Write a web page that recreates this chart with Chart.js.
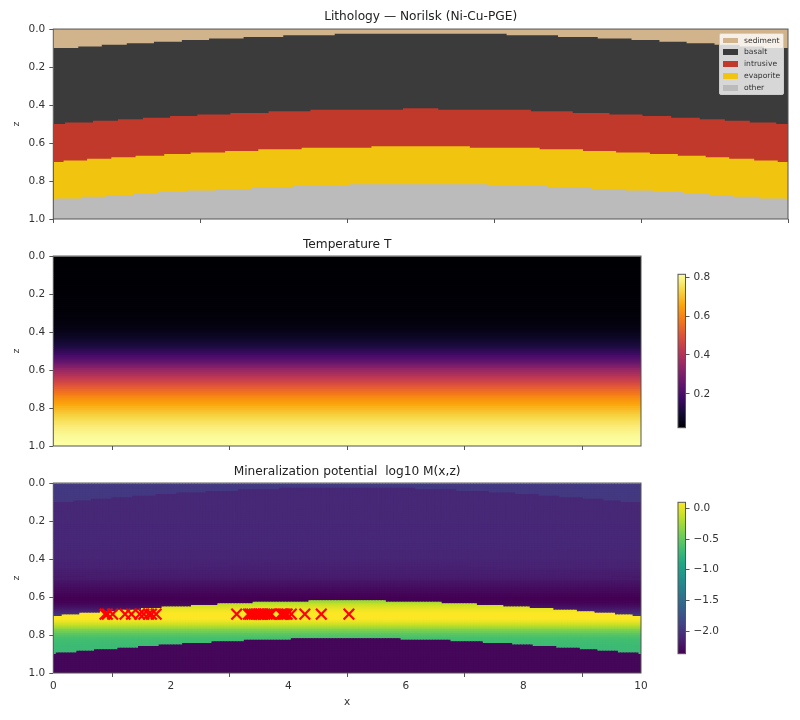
<!DOCTYPE html>
<html>
<head>
<meta charset="utf-8">
<title>Norilsk sections</title>
<script src="https://cdn.jsdelivr.net/npm/chart.js"></script>
<style>
    html, body { margin: 0; padding: 0; background: #fff; }
    #page { position: relative; width: 800px; height: 720px; overflow: hidden; filter: blur(0.5px); }
    canvas { position: absolute; }
    #legend {
        position: absolute; left: 719px; top: 33px; width: 63px; height: 60px;
        background: rgba(255, 255, 255, 0.8); border: 1px solid #ccc; border-radius: 2px;
        font: 7.6px "DejaVu Sans", sans-serif; color: #333;
    }
    #legend div { position: absolute; left: 24px; line-height: 10px; }
    #legend span { position: absolute; left: -21px; top: 2px; width: 15px; height: 5.5px; }
</style>
</head>
<body>
<div id="page">
    <canvas id="lithologyChart" width="800" height="235" style="left:0;top:0"></canvas>
    <canvas id="temperatureChart" width="660" height="232" style="left:0;top:232px"></canvas>
    <canvas id="temperatureBar" width="80" height="174" style="left:670px;top:264px"></canvas>
    <canvas id="mineralChart" width="660" height="261" style="left:0;top:459px"></canvas>
    <canvas id="mineralBar" width="80" height="172" style="left:670px;top:492px"></canvas>
    <div id="legend"></div>
</div>
<script>
// Lithology layers, top to bottom
const layerNames = ['sediment', 'basalt', 'intrusive', 'evaporite', 'other'];
const layerColors = ['#d2b48c', '#3b3b3b', '#c0392b', '#f1c40f', '#bbbbbb'];

// Base of each layer: a step starts at x and holds z until the next x
const sedimentBaseX = [0, 0.34, 0.66, 1, 1.37, 1.75, 2.12, 2.59, 3.13, 3.83, 6.17, 6.87, 7.41, 7.87, 8.25, 8.62, 9, 9.34, 9.67, 10];
const sedimentBaseZ = [0.1, 0.0917, 0.0833, 0.075, 0.0667, 0.0583, 0.05, 0.0417, 0.0333, 0.025, 0.0333, 0.0417, 0.05, 0.0583, 0.0667, 0.075, 0.0833, 0.0917, 0.1, 0.1];
const basaltBaseX = [0, 0.16, 0.54, 0.88, 1.22, 1.59, 1.96, 2.41, 2.93, 3.5, 4.76, 5.24, 6.5, 7.07, 7.57, 8.02, 8.41, 8.8, 9.14, 9.48, 9.84, 10];
const basaltBaseZ = [0.5, 0.4917, 0.4833, 0.475, 0.4667, 0.4583, 0.45, 0.4417, 0.4333, 0.425, 0.4167, 0.425, 0.4333, 0.4417, 0.45, 0.4583, 0.4667, 0.475, 0.4833, 0.4917, 0.5, 0.5];
const intrusiveBaseX = [0, 0.14, 0.46, 0.79, 1.12, 1.51, 1.87, 2.34, 2.79, 3.38, 4.33, 5.67, 6.62, 7.21, 7.66, 8.12, 8.5, 8.88, 9.2, 9.54, 9.86, 10];
const intrusiveBaseZ = [0.7, 0.6917, 0.6833, 0.675, 0.6667, 0.6583, 0.65, 0.6417, 0.6333, 0.625, 0.6167, 0.625, 0.6333, 0.6417, 0.65, 0.6583, 0.6667, 0.675, 0.6833, 0.6917, 0.7, 0.7];
const evaporiteBaseX = [0, 0.04, 0.385, 0.72, 1.09, 1.43, 1.82, 2.21, 2.7, 3.26, 4.04, 5.92, 6.73, 7.32, 7.79, 8.16, 8.57, 8.93, 9.25, 9.62, 9.96, 10];
const evaporiteBaseZ = [0.9, 0.8917, 0.8833, 0.875, 0.8667, 0.8583, 0.85, 0.8417, 0.8333, 0.825, 0.8167, 0.825, 0.8333, 0.8417, 0.85, 0.8583, 0.8667, 0.875, 0.8833, 0.8917, 0.9, 0.9];

// Temperature by depth, one value per 0.01 of z
const temperatureRows = [
    0.026, 0.026, 0.026, 0.026, 0.026, 0.026, 0.027, 0.027, 0.027, 0.027,
    0.027, 0.027, 0.028, 0.028, 0.028, 0.028, 0.028, 0.029, 0.029, 0.029,
    0.029, 0.030, 0.030, 0.030, 0.031, 0.031, 0.031, 0.032, 0.032, 0.033,
    0.034, 0.035, 0.036, 0.037, 0.039, 0.042, 0.044, 0.047, 0.051, 0.056,
    0.062, 0.067, 0.073, 0.080, 0.088, 0.097, 0.108, 0.120, 0.132, 0.146,
    0.160, 0.176, 0.193, 0.211, 0.229, 0.247, 0.268, 0.290, 0.312, 0.335,
    0.357, 0.376, 0.396, 0.415, 0.434, 0.452, 0.471, 0.490, 0.509, 0.528,
    0.547, 0.563, 0.579, 0.595, 0.611, 0.626, 0.639, 0.652, 0.664, 0.677,
    0.689, 0.700, 0.711, 0.722, 0.733, 0.744, 0.752, 0.760, 0.768, 0.776,
    0.783, 0.788, 0.793, 0.798, 0.803, 0.807, 0.809, 0.811, 0.813, 0.815
];

// log10 M by depth inside each layer, one value per 0.01 of z from the first row given
const sedimentLogM = [-1.94, -1.95, -1.95, -1.95, -1.96, -1.96, -1.96, -1.96, -1.96, -1.96];
const basaltLogM = [
    -2.09, -2.09, -2.09, -2.09, -2.09, -2.09, -2.09, -2.09, -2.09, -2.09, -2.09, -2.09, -2.09, -2.09, -2.09, -2.09, -2.09, -2.09,
    -2.10, -2.10, -2.10, -2.10, -2.10, -2.10, -2.10, -2.10, -2.10, -2.10, -2.10, -2.10, -2.10, -2.10, -2.10,
    -2.11, -2.11, -2.11, -2.11, -2.11,
    -2.12, -2.12, -2.13, -2.13, -2.14, -2.15, -2.16, -2.17, -2.18, -2.20
];
const intrusiveLogM = [
    -2.13, -2.135, -2.135, -2.148, -2.148, -2.16, -2.16, -2.172, -2.185,
    -2.197, -2.222, -2.234, -2.259, -2.271, -2.296, -2.308, -2.321, -2.345, -2.358,
    -2.37, -2.37, -2.358, -2.333, -2.296, -2.247, -2.197, -2.135, -2.074, -2.0
];
const evaporiteLogM = [
    -0.28, -0.246, -0.147, -0.073, -0.024, 0.026, 0.063, 0.088, 0.1,
    0.1, 0.088, 0.05, -0.011, -0.098, -0.196, -0.295, -0.394, -0.468, -0.542,
    -0.592, -0.629, -0.653, -0.666, -0.678, -0.69, -0.69, -0.69, -0.69, -0.69
];
const otherLogM = [-2.33, -2.33, -2.33, -2.33, -2.33, -2.33, -2.33, -2.33, -2.33, -2.33, -2.33, -2.33, -2.33, -2.33, -2.33, -2.33, -2.33, -2.33, -2.33];
const logMFirstRow = [0, 2, 41, 61, 81];

// Targets marked with red crosses
const targetX = [0.88, 0.92, 1.01, 1.22, 1.33, 1.47, 1.54, 1.62, 1.67, 1.75, 3.12, 3.32, 3.35, 3.38, 3.42, 3.45, 3.5, 3.53, 3.57, 3.6, 3.64, 3.68, 3.71, 3.87, 3.9, 3.92, 3.95, 3.98, 4.05, 4.28, 4.56, 5.03];
const targetZ = [0.69, 0.69, 0.69, 0.69, 0.69, 0.69, 0.69, 0.69, 0.69, 0.69, 0.69, 0.69, 0.69, 0.69, 0.69, 0.69, 0.69, 0.69, 0.69, 0.69, 0.69, 0.69, 0.69, 0.69, 0.69, 0.69, 0.69, 0.69, 0.69, 0.69, 0.69, 0.69];

// Axis ticks
const depthTicks = [0, 0.2, 0.4, 0.6, 0.8, 1];
const distanceTicks = [0, 2, 4, 6, 8, 10];
const temperatureTicks = [0.2, 0.4, 0.6, 0.8];
const logMTicks = [-2, -1.5, -1, -0.5, 0];

// Colormaps
const inferno = ['#000004', '#160b39', '#420a68', '#6a176e', '#932667', '#bc3754', '#dd513a', '#f37819', '#fca50a', '#f6d746', '#fcffa4'];
const viridis = ['#440154', '#482475', '#414487', '#355f8d', '#2a788e', '#21918c', '#22a884', '#44bf70', '#7ad151', '#bddf26', '#fde725'];
const temperatureRange = [0.026, 0.815];
const logMRange = [-2.37, 0.1];

const textColor = '#333';
const frameColor = '#555';
const tickFont = { family: 'DejaVu Sans', size: 10.5 };

function colorFor(stops, range, value) {
    const t = Math.min(1, Math.max(0, (value - range[0]) / (range[1] - range[0]))) * (stops.length - 1);
    const i = Math.min(stops.length - 2, Math.floor(t));
    const a = parseInt(stops[i].slice(1), 16);
    const b = parseInt(stops[i + 1].slice(1), 16);
    const mix = function(shift) {
        const ca = (a >> shift) & 255;
        const cb = (b >> shift) & 255;
        return Math.round(ca + (cb - ca) * (t - i));
    };
    return 'rgb(' + mix(16) + ',' + mix(8) + ',' + mix(0) + ')';
}

// Value of a step line at x
function stepAt(xs, zs, x) {
    let i = 0;
    while (i < xs.length - 1 && xs[i + 1] <= x) i++;
    return zs[i];
}

function toPoints(xs, zs) {
    return xs.map(function(x, i) { return { x: x, y: zs[i] }; });
}

// Spines on all four sides
const framePlugin = {
    id: 'frame',
    afterDraw: function(chart) {
        const a = chart.chartArea;
        const ctx = chart.ctx;
        ctx.save();
        ctx.strokeStyle = frameColor;
        ctx.lineWidth = 1;
        ctx.strokeRect(a.left, a.top, a.right - a.left, a.bottom - a.top);
        ctx.restore();
    }
};

function depthAxis() {
    return {
        type: 'linear', reverse: true, min: 0, max: 1,
        afterFit: function(scale) { scale.width = 53.3; },
        afterBuildTicks: function(scale) { scale.ticks = depthTicks.map(function(v) { return { value: v }; }); },
        border: { display: false },
        grid: { drawOnChartArea: false, tickLength: 4, tickColor: frameColor },
        ticks: { color: textColor, font: tickFont, padding: 4, autoSkip: false, callback: function(v) { return v.toFixed(1); } },
        title: { display: true, text: 'z', color: textColor, font: { family: 'DejaVu Sans', size: 9.5 }, padding: { top: 11, bottom: 0 } }
    };
}

function distanceAxis(showLabels, height) {
    return {
        type: 'linear', min: 0, max: 10, offset: false,
        afterFit: function(scale) { scale.height = height; },
        afterBuildTicks: function(scale) { scale.ticks = distanceTicks.map(function(v) { return { value: v }; }); },
        border: { display: false },
        grid: { drawOnChartArea: false, tickLength: 4, tickColor: frameColor },
        ticks: {
            color: textColor, font: tickFont, padding: 3, autoSkip: false, maxRotation: 0,
            callback: function(v) { return showLabels ? String(v) : ''; }
        },
        title: {
            display: showLabels, text: 'x', color: textColor,
            font: { family: 'DejaVu Sans', size: 10.5 }, padding: { top: 0, bottom: 11.7 }
        }
    };
}

function titleOptions(text, top, bottom) {
    return {
        display: true, text: text, color: '#222', fullSize: false,
        font: { family: 'DejaVu Sans', size: 12.2, weight: 'normal' },
        padding: { top: top, bottom: bottom }
    };
}

// Top panel: each layer is filled from its upper surface down, next one paints over it
function initLithologyChart() {
    const surfaces = [
        toPoints([0, 10], [0, 0]),
        toPoints(sedimentBaseX, sedimentBaseZ),
        toPoints(basaltBaseX, basaltBaseZ),
        toPoints(intrusiveBaseX, intrusiveBaseZ),
        toPoints(evaporiteBaseX, evaporiteBaseZ)
    ];
    new Chart(document.getElementById('lithologyChart'), {
        type: 'line',
        data: {
            datasets: surfaces.map(function(points, i) {
                return {
                    label: layerNames[i],
                    data: points,
                    stepped: true,
                    fill: { value: 1 },
                    backgroundColor: layerColors[i],
                    borderWidth: 0,
                    pointRadius: 0,
                    order: surfaces.length - i
                };
            })
        },
        options: {
            responsive: false,
            animation: false,
            layout: { padding: { right: 12 } },
            scales: { x: distanceAxis(false, 16), y: depthAxis() },
            plugins: {
                legend: { display: false },
                tooltip: { enabled: false },
                title: titleOptions('Lithology \u2014 Norilsk (Ni-Cu-PGE)', 10, 4.4)
            }
        },
        plugins: [framePlugin]
    });
}

// Middle panel: one wide bar per depth row
function initTemperatureChart() {
    new Chart(document.getElementById('temperatureChart'), {
        type: 'bar',
        data: {
            datasets: [{
                data: temperatureRows.map(function(t, i) {
                    return { x: 5, y: [i / 100, (i + 1) / 100 + 0.004] };
                }),
                backgroundColor: temperatureRows.map(function(t) { return colorFor(inferno, temperatureRange, t); }),
                borderWidth: 0,
                grouped: false,
                categoryPercentage: 1,
                barPercentage: 6
            }]
        },
        options: {
            responsive: false,
            animation: false,
            layout: { padding: { right: 19 } },
            scales: { x: distanceAxis(false, 18), y: depthAxis() },
            plugins: {
                legend: { display: false },
                tooltip: { enabled: false },
                title: titleOptions('Temperature T', 5.7, 3.7)
            }
        },
        plugins: [framePlugin]
    });
}

// Bottom panel: cells of log10 M, cut at the layer surfaces in every column
function mineralCells() {
    const tables = [sedimentLogM, basaltLogM, intrusiveLogM, evaporiteLogM, otherLogM];
    const tops = [
        function() { return 0; },
        function(x) { return stepAt(sedimentBaseX, sedimentBaseZ, x); },
        function(x) { return stepAt(basaltBaseX, basaltBaseZ, x); },
        function(x) { return stepAt(intrusiveBaseX, intrusiveBaseZ, x); },
        function(x) { return stepAt(evaporiteBaseX, evaporiteBaseZ, x); },
        function() { return 1; }
    ];
    const cells = [];
    const colors = [];
    tables.forEach(function(table, layer) {
        table.forEach(function(logM, k) {
            const rowTop = (logMFirstRow[layer] + k) / 100;
            const color = colorFor(viridis, logMRange, logM);
            for (let c = 0; c < 200; c++) {
                const x = (c + 0.5) * 0.05;
                const from = Math.max(rowTop, tops[layer](x));
                const to = Math.min(rowTop + 0.01, tops[layer + 1](x));
                if (to > from) {
                    cells.push({ x: x, y: [from, to + 0.004] });
                    colors.push(color);
                }
            }
        });
    });
    return { cells: cells, colors: colors };
}

function initMineralChart() {
    const grid = mineralCells();
    new Chart(document.getElementById('mineralChart'), {
        type: 'bar',
        data: {
            datasets: [
                {
                    type: 'scatter',
                    data: toPoints(targetX, targetZ),
                    pointStyle: 'crossRot',
                    pointRadius: 7.5,
                    borderColor: '#ff0000',
                    backgroundColor: '#ff0000',
                    borderWidth: 2.2,
                    order: 0
                },
                {
                    data: grid.cells,
                    backgroundColor: grid.colors,
                    borderWidth: 0,
                    grouped: false,
                    categoryPercentage: 1,
                    barPercentage: 1.3,
                    order: 1
                }
            ]
        },
        options: {
            responsive: false,
            animation: false,
            layout: { padding: { right: 19 } },
            scales: { x: distanceAxis(true, 47), y: depthAxis() },
            plugins: {
                legend: { display: false },
                tooltip: { enabled: false },
                title: titleOptions('Mineralization potential  log10 M(x,z)', 5.7, 3.7)
            }
        },
        plugins: [framePlugin]
    });
}

// Colour bar: a single bar over the whole range, painted with the colormap
function initColorBar(id, stops, range, ticks, decimals, pad) {
    new Chart(document.getElementById(id), {
        type: 'bar',
        data: {
            labels: [''],
            datasets: [{
                data: [range],
                barPercentage: 1,
                categoryPercentage: 1,
                borderWidth: 0,
                backgroundColor: function(context) {
                    const area = context.chart.chartArea;
                    if (!area) return stops[0];
                    const gradient = context.chart.ctx.createLinearGradient(0, area.bottom, 0, area.top);
                    stops.forEach(function(stop, i) { gradient.addColorStop(i / (stops.length - 1), stop); });
                    return gradient;
                }
            }]
        },
        options: {
            responsive: false,
            animation: false,
            layout: { padding: { left: 8, top: pad, bottom: pad } },
            scales: {
                x: { display: false },
                y: {
                    position: 'right', min: range[0], max: range[1],
                    afterFit: function(scale) { scale.width = 64.5; },
                    afterBuildTicks: function(scale) { scale.ticks = ticks.map(function(v) { return { value: v }; }); },
                    border: { display: false },
                    grid: { drawOnChartArea: false, tickLength: 4, tickColor: frameColor },
                    ticks: {
                        color: textColor, font: tickFont, padding: 4, autoSkip: false,
                        callback: function(v) { return v.toFixed(decimals).replace('-', '\u2212'); }
                    }
                }
            },
            plugins: { legend: { display: false }, tooltip: { enabled: false } }
        },
        plugins: [framePlugin]
    });
}

function initLegend() {
    const box = document.getElementById('legend');
    layerNames.forEach(function(name, i) {
        const row = document.createElement('div');
        row.style.top = (1.5 + i * 11.9) + 'px';
        row.textContent = name;
        const swatch = document.createElement('span');
        swatch.style.background = layerColors[i];
        row.appendChild(swatch);
        box.appendChild(row);
    });
}

initLithologyChart();
initTemperatureChart();
initMineralChart();
initColorBar('temperatureBar', inferno, temperatureRange, temperatureTicks, 1, 10);
initColorBar('mineralBar', viridis, logMRange, logMTicks, 1, 10);
initLegend();
</script>
</body>
</html>
